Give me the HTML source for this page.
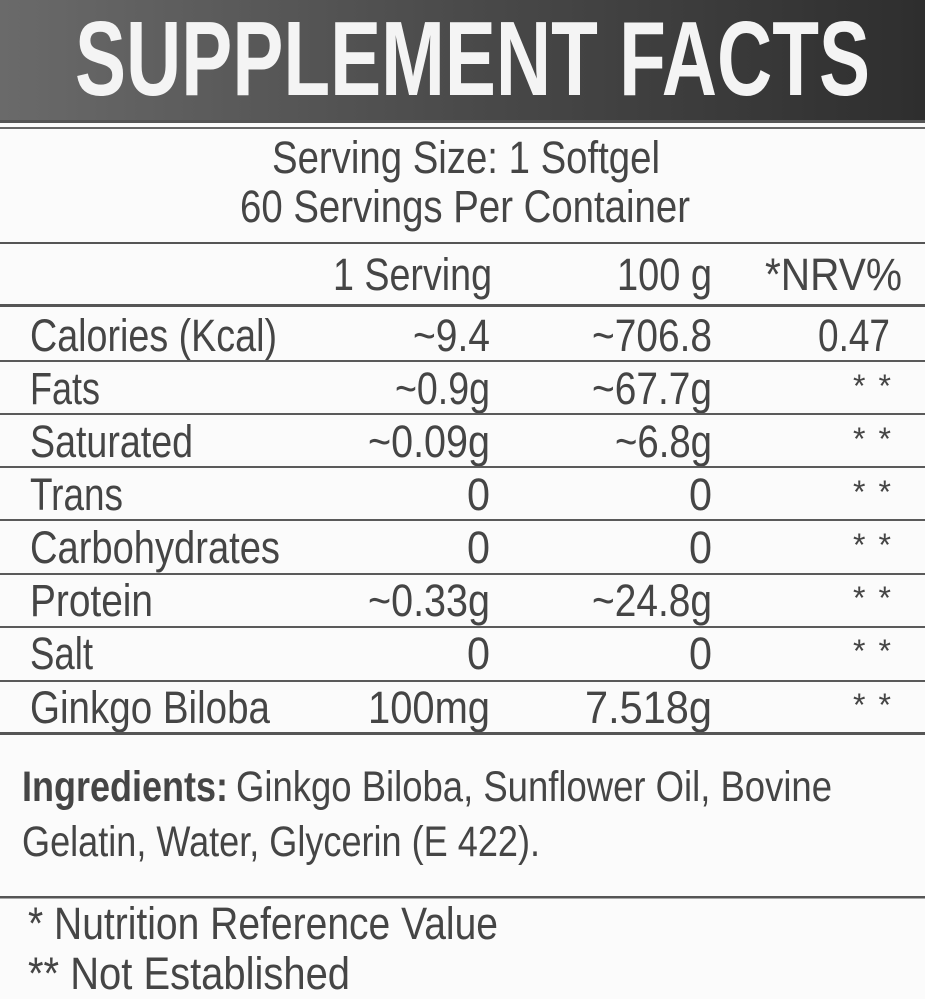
<!DOCTYPE html>
<html><head><meta charset="utf-8"><style>
html,body{margin:0;padding:0;background:#fbfbfb;width:925px;height:999px;overflow:hidden}
svg{display:block}
text{font-family:"Liberation Sans",sans-serif;fill:#454545}
</style></head><body>
<svg width="925" height="999" viewBox="0 0 925 999" xmlns="http://www.w3.org/2000/svg">
<defs>
<linearGradient id="g" x1="0" y1="0" x2="1" y2="0">
<stop offset="0" stop-color="#6a6a6a"/><stop offset="0.5" stop-color="#4a4a4a"/><stop offset="1" stop-color="#2e2e2e"/>
</linearGradient>
</defs>
<rect x="0" y="0" width="925" height="120" fill="url(#g)"/>
<text x="75" y="95" font-size="106" font-weight="bold" style="fill:#f4f4f4" textLength="795" lengthAdjust="spacingAndGlyphs">SUPPLEMENT FACTS</text>
<rect x="0" y="120" width="925" height="3" fill="#555"/>
<rect x="0" y="127" width="925" height="2" fill="#666"/>
<text x="272" y="173" font-size="45" textLength="388" lengthAdjust="spacingAndGlyphs">Serving Size: 1 Softgel</text>
<text x="240" y="222" font-size="45" textLength="450" lengthAdjust="spacingAndGlyphs">60 Servings Per Container</text>
<rect x="0" y="242" width="925" height="2" fill="#555"/>
<text x="333" y="290" font-size="45" textLength="159" lengthAdjust="spacingAndGlyphs">1 Serving</text>
<text x="617" y="290" font-size="45" textLength="95" lengthAdjust="spacingAndGlyphs">100 g</text>
<text x="765" y="290" font-size="45" textLength="137" lengthAdjust="spacingAndGlyphs">*NRV%</text>
<rect x="0" y="304" width="925" height="3" fill="#555"/>

<g font-size="45">
<text x="30" y="351" textLength="247" lengthAdjust="spacingAndGlyphs">Calories (Kcal)</text>
<text x="413" y="351" textLength="77" lengthAdjust="spacingAndGlyphs">~9.4</text>
<text x="592" y="351" textLength="120" lengthAdjust="spacingAndGlyphs">~706.8</text>
<text x="818" y="351" textLength="72" lengthAdjust="spacingAndGlyphs">0.47</text>

<text x="30" y="404" textLength="70" lengthAdjust="spacingAndGlyphs">Fats</text>
<text x="395" y="404" textLength="95" lengthAdjust="spacingAndGlyphs">~0.9g</text>
<text x="592" y="404" textLength="120" lengthAdjust="spacingAndGlyphs">~67.7g</text>

<text x="30" y="457" textLength="163" lengthAdjust="spacingAndGlyphs">Saturated</text>
<text x="368" y="457" textLength="122" lengthAdjust="spacingAndGlyphs">~0.09g</text>
<text x="615" y="457" textLength="97" lengthAdjust="spacingAndGlyphs">~6.8g</text>

<text x="30" y="510" textLength="93" lengthAdjust="spacingAndGlyphs">Trans</text>
<text x="467" y="510" textLength="23" lengthAdjust="spacingAndGlyphs">0</text>
<text x="689" y="510" textLength="23" lengthAdjust="spacingAndGlyphs">0</text>

<text x="30" y="563" textLength="250" lengthAdjust="spacingAndGlyphs">Carbohydrates</text>
<text x="467" y="563" textLength="23" lengthAdjust="spacingAndGlyphs">0</text>
<text x="689" y="563" textLength="23" lengthAdjust="spacingAndGlyphs">0</text>

<text x="30" y="616" textLength="123" lengthAdjust="spacingAndGlyphs">Protein</text>
<text x="368" y="616" textLength="122" lengthAdjust="spacingAndGlyphs">~0.33g</text>
<text x="592" y="616" textLength="120" lengthAdjust="spacingAndGlyphs">~24.8g</text>

<text x="30" y="669" textLength="63" lengthAdjust="spacingAndGlyphs">Salt</text>
<text x="467" y="669" textLength="23" lengthAdjust="spacingAndGlyphs">0</text>
<text x="689" y="669" textLength="23" lengthAdjust="spacingAndGlyphs">0</text>

<text x="30" y="723" textLength="240" lengthAdjust="spacingAndGlyphs">Ginkgo Biloba</text>
<text x="368" y="723" textLength="122" lengthAdjust="spacingAndGlyphs">100mg</text>
<text x="585" y="723" textLength="127" lengthAdjust="spacingAndGlyphs">7.518g</text>
</g>
<g font-size="32">
<text x="853" y="397" textLength="38" lengthAdjust="spacing">**</text>
<text x="853" y="450" textLength="38" lengthAdjust="spacing">**</text>
<text x="853" y="503" textLength="38" lengthAdjust="spacing">**</text>
<text x="853" y="556" textLength="38" lengthAdjust="spacing">**</text>
<text x="853" y="609" textLength="38" lengthAdjust="spacing">**</text>
<text x="853" y="662" textLength="38" lengthAdjust="spacing">**</text>
<text x="853" y="716" textLength="38" lengthAdjust="spacing">**</text>
</g>
<g fill="#5a5a5a">
<rect x="0" y="360" width="925" height="2"/>
<rect x="0" y="413" width="925" height="2"/>
<rect x="0" y="466" width="925" height="2"/>
<rect x="0" y="519" width="925" height="2"/>
<rect x="0" y="573" width="925" height="2"/>
<rect x="0" y="626" width="925" height="2"/>
<rect x="0" y="680" width="925" height="2"/>
</g>
<rect x="0" y="732" width="925" height="3" fill="#555"/>

<text x="22" y="801" font-size="43" font-weight="bold" textLength="206" lengthAdjust="spacingAndGlyphs">Ingredients:</text>
<text x="236" y="801" font-size="43" textLength="596" lengthAdjust="spacingAndGlyphs">Ginkgo Biloba, Sunflower Oil, Bovine</text>
<text x="22" y="856" font-size="43" textLength="518" lengthAdjust="spacingAndGlyphs">Gelatin, Water, Glycerin (E 422).</text>
<rect x="0" y="896" width="925" height="2.5" fill="#555"/>
<text x="28" y="939" font-size="45" textLength="470" lengthAdjust="spacingAndGlyphs">* Nutrition Reference Value</text>
<text x="28" y="989" font-size="45" textLength="322" lengthAdjust="spacingAndGlyphs">** Not Established</text>
</svg>
</body></html>
